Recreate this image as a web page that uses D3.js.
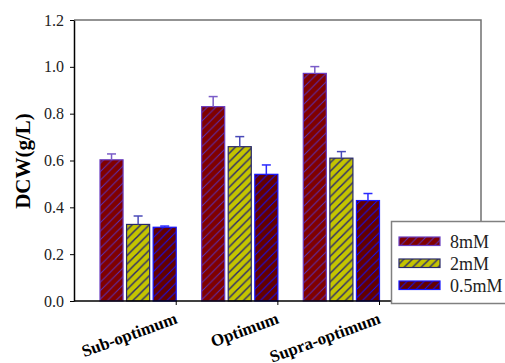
<!DOCTYPE html>
<html><head><meta charset="utf-8">
<script src="https://cdn.jsdelivr.net/npm/d3@7"></script>
<style>body{margin:0;background:#fff}svg{display:block}
svg text{font-family:"Liberation Serif","Times New Roman","DejaVu Serif",serif;}
</style>
</head><body><svg id="c" width="505" height="363"></svg>
<script>
const categories = ["Sub-optimum", "Optimum", "Supra-optimum"];
const series = ["8mM", "2mM", "0.5mM"];
const values = {
  "8mM":   [0.603, 0.830, 0.972],
  "2mM":   [0.327, 0.659, 0.610],
  "0.5mM": [0.315, 0.541, 0.429]
};
const errors = {
  "8mM":   [0.025, 0.043, 0.029],
  "2mM":   [0.036, 0.043, 0.028],
  "0.5mM": [0.005, 0.040, 0.030]
};
const yTicks = [0, 0.2, 0.4, 0.6, 0.8, 1.0, 1.2];

const styles = {
  "8mM":   {fill: "#800000", hatch: "#5a30b8", hw: 1, stroke: "#6a3cc0", err: "#7a5cc8"},
  "2mM":   {fill: "#c4c400", hatch: "#2c2c6a", hw: 1.5, stroke: "#28286a", err: "#4a4ab8"},
  "0.5mM": {fill: "#640000", hatch: "#1010ff", hw: 1, stroke: "#1414ff", err: "#2a2aff"}
};

const svg = d3.select("#c");
const L = 74, R = 481, T = 20, B = 301;
const P = 8.5;

const defs = svg.append("defs");
series.forEach((s, i) => {
  const st = styles[s];
  const p = defs.append("pattern").attr("id", "h" + i)
    .attr("patternUnits", "userSpaceOnUse").attr("width", P).attr("height", P);
  p.append("rect").attr("width", P).attr("height", P).attr("fill", st.fill);
  p.append("path").attr("d", `M-2,2 L2,-2 M0,${P} L${P},0 M${P-2},${P+2} L${P+2},${P-2}`)
    .attr("stroke", st.hatch).attr("stroke-width", st.hw);
});

const y = d3.scaleLinear().domain([0, 1.2]).range([B, T]);
const x0 = d3.scaleBand().domain(categories).range([100, 379.5]).paddingInner(0.25).paddingOuter(0);
const x1 = d3.scaleBand().domain(series).range([0, x0.bandwidth()]).paddingInner(0.132);

// frame (top and right)
svg.append("path").attr("d", `M${L},${T}H${R}V${B}`).attr("fill", "none")
  .attr("stroke", "#707070").attr("stroke-width", 1.5);

// bars
const g = svg.append("g");
categories.forEach((c, ci) => {
  series.forEach((s, si) => {
    const v = values[s][ci], e = errors[s][ci], st = styles[s];
    const bx = x0(c) + x1(s), bw = x1.bandwidth();
    g.append("rect").attr("x", bx).attr("y", y(v)).attr("width", bw).attr("height", y(0) - y(v))
      .attr("fill", `url(#h${si})`).attr("stroke", st.stroke).attr("stroke-width", 1.2);
    const cx = bx + bw / 2;
    g.append("line").attr("x1", cx).attr("x2", cx).attr("y1", y(v)).attr("y2", y(v + e))
      .attr("stroke", st.err).attr("stroke-width", 1.5);
    g.append("line").attr("x1", cx - 4.5).attr("x2", cx + 4.5).attr("y1", y(v + e)).attr("y2", y(v + e))
      .attr("stroke", st.err).attr("stroke-width", 1.5);
  });
});

// y axis
const ya = svg.append("g").attr("transform", `translate(${L},0)`)
  .call(d3.axisLeft(y).tickValues(yTicks).tickFormat(d3.format(".1f")).tickSize(4).tickSizeOuter(0));
ya.attr("font-family", null);
ya.select(".domain").attr("stroke", "#000").attr("stroke-width", 1.5);
ya.selectAll(".tick line").attr("stroke", "#000").attr("stroke-width", 1);
ya.selectAll(".tick text").attr("font-size", 16).attr("fill", "#222").attr("x", -10);

// x axis
const xa = svg.append("g").attr("transform", `translate(0,${B})`);
xa.append("line").attr("x1", L).attr("x2", R).attr("stroke", "#000").attr("stroke-width", 1.5);
categories.forEach(c => {
  const tx = x0(c) + x0.bandwidth();
  xa.append("line").attr("x1", tx).attr("x2", tx).attr("y1", 0).attr("y2", 4).attr("stroke", "#000");
  xa.append("text").attr("transform", `translate(${tx + 2},22) rotate(-20)`)
    .attr("text-anchor", "end")
    .attr("font-weight", "bold").attr("font-size", 17).attr("fill", "#000").text(c);
});

// y title
svg.append("text").attr("transform", "translate(30,161) rotate(-90)")
  .attr("text-anchor", "middle")
  .attr("font-weight", "bold").attr("font-size", 21).attr("fill", "#000").text("DCW(g/L)");

// legend
const lg = svg.append("g");
lg.append("rect").attr("x", 391.5).attr("y", 221.5).attr("width", 130).attr("height", 82)
  .attr("fill", "#fff").attr("stroke", "#808080").attr("stroke-width", 1.5);
series.forEach((s, i) => {
  const yy = 237 + i * 22;
  lg.append("rect").attr("x", 399).attr("y", yy).attr("width", 41).attr("height", 8.5)
    .attr("fill", `url(#h${i})`).attr("stroke", styles[s].stroke).attr("stroke-width", 1.2);
  lg.append("text").attr("x", 450).attr("y", yy + 10.8)
    .attr("font-size", 18).attr("fill", "#222").text(s);
});
</script></body></html>
